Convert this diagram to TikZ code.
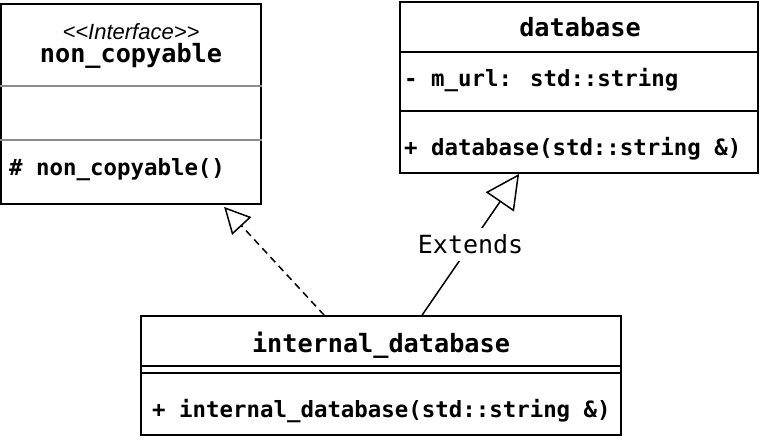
\documentclass[tikz,border=0pt]{standalone}
\usepackage{fontspec}
\newfontfamily\umlmono{DejaVu Sans Mono}
\newfontfamily\umlsans{Liberation Sans}
\usetikzlibrary{calc,arrows.meta}
\tikzset{
	classbox/.style={draw=black,line width=1.8pt,inner sep=0pt},
	classname/.style={font=\umlmono\bfseries\fontsize{25.2}{30}\selectfont,inner sep=0pt,anchor=base},
	classmember/.style={font=\umlmono\bfseries\fontsize{22.4}{27}\selectfont,inner sep=0pt,anchor=base west},
	stereotype/.style={font=\umlsans\itshape\fontsize{22}{26}\selectfont,inner sep=0pt,anchor=base},
	compline/.style={draw=black,line width=1.4pt},
	softline/.style={draw=black!45,line width=1.4pt},
	realizes/.style={-{Triangle[open,length=26pt,width=26pt]},line width=1.5pt,
		dash pattern=on 7pt off 5pt},
	extends/.style={-{Triangle[open,length=34pt,width=34pt]},line width=1.5pt}
}
\begin{document}
\begin{tikzpicture}[x=1pt,y=-1pt]
	\useasboundingbox (0,0) rectangle (762,442);
	% interface
	\node[classbox,minimum width=260pt,minimum height=200pt] (noncopy) at (131,104) {};
	\node[stereotype] (noncopystereo) at (131,39) {\textless\textless Interface\textgreater\textgreater};
	\node[classname] (noncopyname) at (131,62) {non\_copyable};
	\draw[softline] ($(noncopy.north west)+(0,83)$) -- ($(noncopy.north east)+(0,83)$);
	\draw[softline] ($(noncopy.north west)+(0,137)$) -- ($(noncopy.north east)+(0,137)$);
	\node[classmember] (noncopyctor) at (9,175) {\# non\_copyable()};
	% base class
	\node[classbox,minimum width=358pt,minimum height=171pt] (dbase) at (579,87.5) {};
	\node[classname] (dbasename) at (580,36) {database};
	\draw[compline] ($(dbase.north west)+(0,51)$) -- ($(dbase.north east)+(0,51)$);
	\draw[compline] ($(dbase.north west)+(0,110)$) -- ($(dbase.north east)+(0,110)$);
	\node[classmember] (dbaseattr) at (404,86) {- m\_url: std::string};
	\node[classmember] (dbasector) at (404,155) {+ database(std::string \&)};
	% derived class
	\node[classbox,minimum width=480pt,minimum height=119pt] (intdb) at (381,375.5) {};
	\node[classname] (intdbname) at (381,352) {internal\_database};
	\draw[compline] ($(intdb.north west)+(0,51)$) -- ($(intdb.north east)+(0,51)$);
	\draw[compline] ($(intdb.north west)+(0,58)$) -- ($(intdb.north east)+(0,58)$);
	\node[classmember] (intdbctor) at (152,417) {+ internal\_database(std::string \&)};
	% relations
	\draw[realizes] ($(intdb.north west)+(184,0)$) -- ($(noncopy.south west)+(224,2)$);
	\draw[extends] ($(intdb.north west)+(282,0)$) --
		node[fill=white,inner xsep=2pt,inner ysep=7pt,font=\umlmono\fontsize{25}{30}\selectfont]
		(extendslabel) {Extends} ($(dbase.south west)+(120,0)$);
\end{tikzpicture}
\end{document}
